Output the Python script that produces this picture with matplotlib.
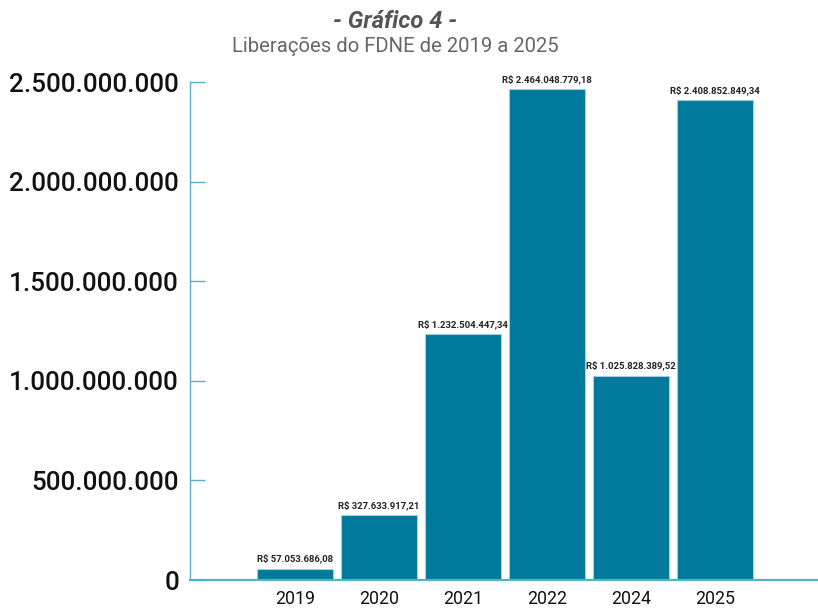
import numpy as np
import matplotlib.pyplot as plt

# data
anos = ['2019', '2020', '2021', '2022', '2024', '2025']
valores = [57053686.08, 327633917.21, 1232504447.34, 2464048779.18,
           1025828389.52, 2408852849.34]
rotulos = ['R$ 57.053.686,08', 'R$ 327.633.917,21', 'R$ 1.232.504.447,34',
           'R$ 2.464.048.779,18', 'R$ 1.025.828.389,52', 'R$ 2.408.852.849,34']
yticks = [0, 500000000, 1000000000, 1500000000, 2000000000, 2500000000]
ytick_labels = ['0', '500.000.000', '1.000.000.000', '1.500.000.000',
                '2.000.000.000', '2.500.000.000']

plt.rcParams['font.family'] = ['Roboto', 'DejaVu Sans']

bar_color = '#007a9c'
axis_color = '#5aaec8'

fig = plt.figure(figsize=(8.18, 6.08), dpi=100)
W, H = 818, 608
ax = fig.add_axes([190 / W, (H - 580) / H, (818 - 190) / W, (580 - 82) / H])

x = np.arange(len(anos))
bars = ax.bar(x, valores, width=0.905, color=bar_color,
              edgecolor='#9fd0df', linewidth=0.8)

# value labels above bars
for b, lab in zip(bars, rotulos):
    ax.text(b.get_x() + b.get_width() / 2, b.get_height() + 25000000, lab,
            ha='center', va='bottom', fontsize=6.8, fontweight='bold',
            color='#222222')

ax.set_xlim(-1.25, 6.23)
ax.set_ylim(0, 2500000000)
ax.set_xticks(x)
ax.set_xticklabels(anos, fontsize=12.8, color='#111111')
ax.set_yticks(yticks)
ax.set_yticklabels(ytick_labels, fontsize=18.7, color='#111111',
                   fontweight='medium')

ax.tick_params(axis='x', length=0, pad=7)
ax.tick_params(axis='y', direction='in', length=11, width=1,
               color=axis_color, pad=8)

for s in ['top', 'right']:
    ax.spines[s].set_visible(False)
ax.spines['left'].set_color(axis_color)
ax.spines['left'].set_linewidth(1)
ax.spines['bottom'].set_color(axis_color)
ax.spines['bottom'].set_linewidth(1.6)

fig.text(395 / W, 1 - 22 / H, '- Gráfico 4 -', ha='center', va='center',
         fontsize=17, fontweight='bold', fontstyle='italic', color='#555555')
fig.text(395 / W, 1 - 46 / H, 'Liberações do FDNE de 2019 a 2025',
         ha='center', va='center', fontsize=14.6, color='#666666')

fig.savefig('out.png', dpi=100)
